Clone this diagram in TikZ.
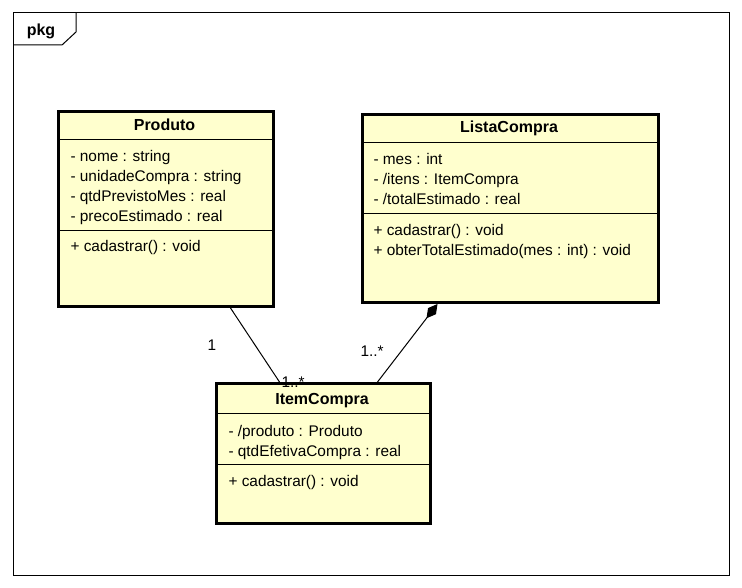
\documentclass[tikz,border=0pt]{standalone}
\usepackage{fontspec}
\setmainfont{Liberation Sans}
\usetikzlibrary{arrows.meta}
\definecolor{classfill}{RGB}{255,255,206}

\begin{document}
\begin{tikzpicture}[x=1pt,y=-1pt,line width=1pt,
  font=\fontsize{15.4}{20}\selectfont]
\tikzstyle{every node}+=[inner sep=0pt]
\tikzstyle{classbox}=[draw,line width=3pt,fill=classfill,anchor=north west]
\tikzstyle{title}=[anchor=base,font=\fontsize{16}{20}\selectfont\bfseries]
\tikzstyle{member}=[anchor=base west]
\useasboundingbox (0,0) rectangle (742,588);
% package frame
\draw (13,13) rectangle (729,575);
\draw (13,45) -- (62,45) -- (76,32) -- (76,13);
\node [title] (pkg) at (41,36) {pkg};
% Produto
\node [classbox,minimum width=215pt,minimum height=195pt] (produto) at (57,110) {};
\draw (57,140) -- (272,140);
\draw (57,231) -- (272,231);
\node [title] (produtoname) at (164.5,131) {Produto};
\node [member] (produtoa1) at (70,162) {- nome : string};
\node [member] (produtoa2) at (70,182) {- unidadeCompra : string};
\node [member] (produtoa3) at (70,202) {- qtdPrevistoMes : real};
\node [member] (produtoa4) at (70,222) {- precoEstimado : real};
\node [member] (produtoo1) at (70,252) {+ cadastrar() : void};
% ListaCompra
\node [classbox,minimum width=296pt,minimum height=188pt] (lista) at (361,113) {};
\draw (361,143) -- (657,143);
\draw (361,214) -- (657,214);
\node [title] (listaname) at (509,133) {ListaCompra};
\node [member] (listaa1) at (373,165) {- mes : int};
\node [member] (listaa2) at (373,185) {- /itens : ItemCompra};
\node [member] (listaa3) at (373,205) {- /totalEstimado : real};
\node [member] (listao1) at (373,236) {+ cadastrar() : void};
\node [member] (listao2) at (373,256) {+ obterTotalEstimado(mes : int) : void};
% ItemCompra
\node [classbox,minimum width=214pt,minimum height=140pt] (item) at (215,382) {};
\draw (215,413) -- (429,413);
\draw (215,464) -- (429,464);
\node [title] (itemname) at (322,404) {ItemCompra};
\node [member] (itema1) at (228,436) {- /produto : Produto};
\node [member] (itema2) at (228,456) {- qtdEfetivaCompra : real};
\node [member] (itemo1) at (228,486) {+ cadastrar() : void};
% associations
\draw ([xshift=64.5pt]produto.south) -- ([xshift=-44pt]item.north);
\draw [{Diamond[length=18pt,width=10pt]}-] ([xshift=-73pt]lista.south) -- ([xshift=54pt]item.north);
\node [member] (mult1) at (207,350) {1};
\node [member] (mult2) at (281,387) {1..*};
\node [member] (mult3) at (360,356) {1..*};
\end{tikzpicture}
\end{document}
